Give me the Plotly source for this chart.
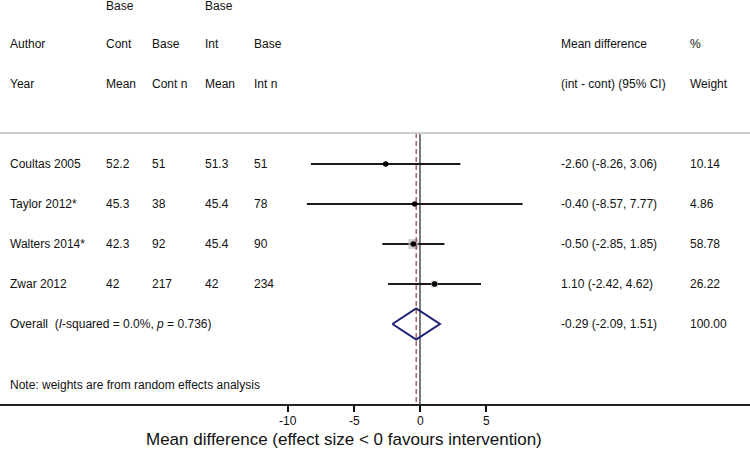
import math
import plotly.graph_objects as go

# ---------------- data ----------------
studies = ["Coultas 2005", "Taylor 2012*", "Walters 2014*", "Zwar 2012"]
cont_mean = ["52.2", "45.3", "42.3", "42"]
cont_n = ["51", "38", "92", "217"]
int_mean = ["51.3", "45.4", "45.4", "42"]
int_n = ["51", "78", "90", "234"]
md = [-2.60, -0.40, -0.50, 1.10]
ci_lo = [-8.26, -8.57, -2.85, -2.42]
ci_hi = [3.06, 7.77, 1.85, 4.62]
weights = [10.14, 4.86, 58.78, 26.22]
overall_md = -0.29
overall_lo = -2.09
overall_hi = 1.51
overall_weight = 100.00
overall_label = "Overall  (<i>I</i>-squared = 0.0%, <i>p</i> = 0.736)"
note = "Note: weights are from random effects analysis"
x_ticks = [-10, -5, 0, 5]
x_tick_labels = ["-10", "-5", "0", "5"]
x_title = "Mean difference (effect size < 0 favours intervention)"

header_top = ["Base", "", "Base", ""]
header_mid = ["Author", "Cont", "Base", "Int", "Base", "Mean difference", "%"]
header_bot = ["Year", "Mean", "Cont n", "Mean", "Int n", "(int - cont) (95% CI)", "Weight"]

# ---------------- layout helpers ----------------
W, H = 750, 451
PX_PER_UNIT = 13.2
ZERO_PX = 420
PLOT_BOTTOM = 404
ROW0_PX, ROW_STEP = 164, 40


def row_of(px):
    return (px - ROW0_PX) / ROW_STEP


col_px = [8, 104, 150, 203, 252, 559, 688]
FONT = "Liberation Sans, Arial, Helvetica, sans-serif"
TXT = "#111111"

n = len(studies)
rows = list(range(n))
overall_row = n
top_rule = row_of(133)
bottom_row = row_of(PLOT_BOTTOM)

fig = go.Figure()

# zero line
fig.add_trace(go.Scatter(x=[0, 0], y=[top_rule, bottom_row], mode="lines",
                         line=dict(color="#5a5a5a", width=1.6), hoverinfo="skip"))

# CI lines
xs, ys = [], []
for i in rows:
    xs += [ci_lo[i], ci_hi[i], None]
    ys += [i, i, None]
fig.add_trace(go.Scatter(x=xs, y=ys, mode="lines",
                         line=dict(color="#1a1a1a", width=2), hoverinfo="skip"))

# weight squares
wmax = max(weights)
fig.add_trace(go.Scatter(x=md, y=rows, mode="markers",
                         marker=dict(symbol="square", color="#b8b8b8",
                                     size=[10 * math.sqrt(w / wmax) for w in weights],
                                     line=dict(width=0)),
                         hoverinfo="skip"))
# point estimates
fig.add_trace(go.Scatter(x=md, y=rows, mode="markers",
                         marker=dict(symbol="circle", color="#000000", size=5.5),
                         hoverinfo="skip"))

# overall diamond
dh = 0.39
fig.add_trace(go.Scatter(
    x=[overall_lo, overall_md, overall_hi, overall_md, overall_lo],
    y=[overall_row, overall_row - dh, overall_row, overall_row + dh, overall_row],
    mode="lines", line=dict(color="#1c1f73", width=2), hoverinfo="skip"))

# overall dashed line
fig.add_trace(go.Scatter(x=[overall_md, overall_md], y=[top_rule, bottom_row], mode="lines",
                         line=dict(color="#8b2a3a", width=1.1, dash="5px,3px"),
                         hoverinfo="skip"))

ann = []


def add_text(px, row, text, size=12, font=FONT):
    if text == "":
        return
    ann.append(dict(x=px / W, xref="paper", y=row, yref="y", text=text,
                    showarrow=False, xanchor="left", yanchor="middle",
                    font=dict(family=font, size=size, color=TXT)))


# headers
for j, t in enumerate(header_top):
    add_text(col_px[j + 1], row_of(6), t)
for j, t in enumerate(header_mid):
    add_text(col_px[j], row_of(44), t)
for j, t in enumerate(header_bot):
    add_text(col_px[j], row_of(84), t)

# study rows
for i in rows:
    add_text(col_px[0], i, studies[i])
    add_text(col_px[1], i, cont_mean[i])
    add_text(col_px[2], i, cont_n[i])
    add_text(col_px[3], i, int_mean[i])
    add_text(col_px[4], i, int_n[i])
    add_text(col_px[5], i, f"{md[i]:.2f} ({ci_lo[i]:.2f}, {ci_hi[i]:.2f})")
    add_text(col_px[6], i, f"{weights[i]:.2f}")

add_text(col_px[0], overall_row, overall_label)
add_text(col_px[5], overall_row, f"{overall_md:.2f} ({overall_lo:.2f}, {overall_hi:.2f})")
add_text(col_px[6], overall_row, f"{overall_weight:.2f}")
add_text(col_px[0], row_of(385), note)

# x tick labels (placed at the tick values on the x scale, pixel offset below the axis)
for v, lab in zip(x_ticks, x_tick_labels):
    ann.append(dict(x=v, xref="x", y=0, yref="paper", yshift=-(421 - PLOT_BOTTOM),
                    text=lab, showarrow=False, xanchor="center", yanchor="middle",
                    font=dict(family=FONT, size=12, color=TXT)))

# x-axis title
ann.append(dict(x=344 / W, xref="paper", y=0, yref="paper", yshift=-(439 - PLOT_BOTTOM),
                text=x_title, showarrow=False, xanchor="center",
                yanchor="middle", font=dict(family=FONT, size=17, color=TXT)))

fig.update_layout(
    width=W, height=H,
    margin=dict(l=0, r=0, t=0, b=H - PLOT_BOTTOM),
    paper_bgcolor="white", plot_bgcolor="white",
    showlegend=False,
    annotations=ann,
    shapes=[dict(type="line", xref="paper", x0=0, x1=1, yref="y", y0=top_rule, y1=top_rule,
                 line=dict(color="#cfcfcf", width=2))],
    xaxis=dict(range=[-ZERO_PX / PX_PER_UNIT, (W - ZERO_PX) / PX_PER_UNIT],
               tickvals=x_ticks, showticklabels=False,
               ticks="outside", ticklen=6, tickwidth=1.5, tickcolor="#111",
               showline=True, linecolor="#222", linewidth=1.6,
               showgrid=False, zeroline=False),
    yaxis=dict(range=[bottom_row, row_of(0)], visible=False, showgrid=False, zeroline=False),
)

fig.write_html("out.html", config={"displayModeBar": False},
               post_script="document.body.style.margin='0';document.body.style.padding='0';")
